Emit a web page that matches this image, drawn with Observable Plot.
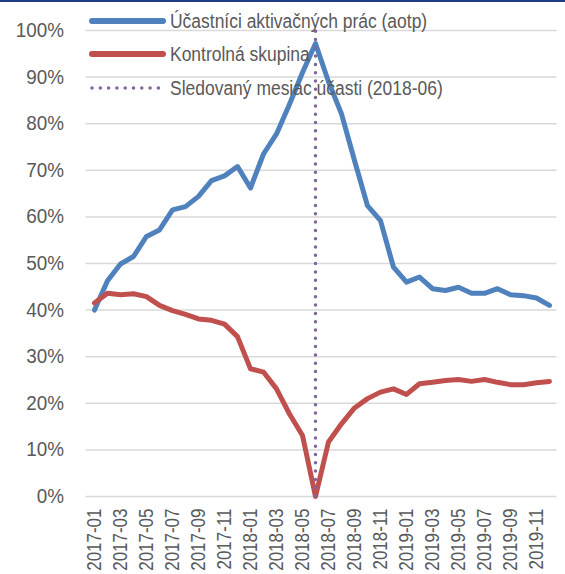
<!DOCTYPE html>
<html><head><meta charset="utf-8">
<script src="https://cdn.jsdelivr.net/npm/d3@7"></script>
<script src="https://cdn.jsdelivr.net/npm/@observablehq/plot@0.6"></script>
<style>
body{margin:0;background:#fff;}
#wrap{position:relative;width:565px;height:574px;overflow:hidden;background:#fff;}
#topbar{position:absolute;left:0;top:0;width:565px;height:2px;background:#1f3c88;}
#legend{position:absolute;left:0;top:0;width:565px;height:120px;pointer-events:none;}
.row{position:absolute;left:0;height:26px;display:flex;align-items:center;white-space:nowrap;color:#595959;}
.row svg{display:block;flex:none;}
.row span{display:inline-block;transform-origin:0 50%;}
</style></head><body>
<div id="wrap"><div id="chart"></div><div id="legend"></div><div id="topbar"></div></div>
<script>
const months = ["2017-01","2017-02","2017-03","2017-04","2017-05","2017-06","2017-07","2017-08","2017-09","2017-10","2017-11","2017-12",
"2018-01","2018-02","2018-03","2018-04","2018-05","2018-06","2018-07","2018-08","2018-09","2018-10","2018-11","2018-12",
"2019-01","2019-02","2019-03","2019-04","2019-05","2019-06","2019-07","2019-08","2019-09","2019-10","2019-11","2019-12"];
const aotp = [0.400,0.463,0.499,0.515,0.558,0.572,0.615,0.622,0.644,0.678,0.688,0.708,
0.662,0.735,0.778,0.842,0.910,0.972,0.890,0.821,0.721,0.624,0.592,0.492,
0.460,0.471,0.446,0.442,0.449,0.436,0.436,0.446,0.433,0.431,0.426,0.410];
const kontrol = [0.415,0.436,0.433,0.435,0.429,0.410,0.399,0.391,0.381,0.378,0.370,0.343,
0.274,0.267,0.231,0.177,0.131,0.000,0.117,0.156,0.190,0.210,0.224,0.231,
0.219,0.242,0.245,0.249,0.251,0.247,0.251,0.245,0.240,0.240,0.244,0.247];
const tickMonths = months.filter((d,i)=>i%2===0);
const yTicks = [0,0.1,0.2,0.3,0.4,0.5,0.6,0.7,0.8,0.9,1.0];
const markerMonth = "2018-06";
const seriesNames = ["Účastníci aktivačných prác (aotp)","Kontrolná skupina","Sledovaný mesiac účasti (2018-06)"];
const seriesColors = ["#4f81bd","#c0504d","#8064a2"];

const fam = "'Liberation Sans',Arial,sans-serif";

const aRows = months.map((m,i)=>({month:m,value:aotp[i]}));
const kRows = months.map((m,i)=>({month:m,value:kontrol[i]}));

const chart = Plot.plot({
  width:565, height:574,
  marginLeft:85.5, marginRight:8.5, marginTop:30, marginBottom:78,
  style:{fontFamily:fam, color:"#595959", background:"transparent"},
  x:{type:"point", domain:months, padding:0.5, align:0.5, label:null},
  y:{domain:[0,1], label:null},
  marks:[
    Plot.gridY(yTicks,{stroke:"#d9d9d9", strokeOpacity:1, strokeWidth:1.5}),
    Plot.axisY(yTicks,{tickFormat:d3.format(".0%"), tickSize:0, tickPadding:22, fontSize:20.5, fill:"#595959", label:null}),
    Plot.axisX(tickMonths,{tickSize:0, tickRotate:-90, tickPadding:12, fontSize:19.5, fill:"#595959", label:null}),
    Plot.line(aRows,{x:"month", y:"value", stroke:seriesColors[0], strokeWidth:5, strokeLinejoin:"round", strokeLinecap:"round"}),
    Plot.line(kRows,{x:"month", y:"value", stroke:seriesColors[1], strokeWidth:5, strokeLinejoin:"round", strokeLinecap:"round"}),
    Plot.ruleX([markerMonth],{y1:0, y2:1, stroke:seriesColors[2], strokeWidth:3.5, strokeDasharray:"0 8.3", strokeLinecap:"round"})
  ]
});
document.getElementById("chart").appendChild(chart);

// condense axis text horizontally (the reference font is narrow)
function condense(sel, f){
  chart.querySelectorAll(sel).forEach(t=>{
    const w = t.getComputedTextLength();
    t.setAttribute("textLength", (w*f).toFixed(2));
    t.setAttribute("lengthAdjust","spacingAndGlyphs");
  });
}
condense('g[aria-label="y-axis tick label"] text', 0.92);
condense('g[aria-label="x-axis tick label"] text', 0.87);

// legend overlay
const legendRowsY = [21, 54, 88];
const leg = d3.select("#legend");
seriesNames.forEach((name,i)=>{
  const row = leg.append("div").attr("class","row")
    .style("top",(legendRowsY[i]-13)+"px").style("left","89px")
    .style("font-family",fam).style("font-size","20px");
  const sv = row.append("svg").attr("width",78).attr("height",26);
  const ln = sv.append("line").attr("x1",3).attr("x2",74).attr("y1",13).attr("y2",13)
    .attr("stroke",seriesColors[i]).attr("stroke-linecap","round");
  if(i===2){ ln.attr("stroke-width",3.5).attr("stroke-dasharray","0 8.3"); }
  else { ln.attr("stroke-width",6); }
  row.append("span").style("margin-left","3px").style("transform","scaleX(0.873)").text(name);
});
</script>
</body></html>
